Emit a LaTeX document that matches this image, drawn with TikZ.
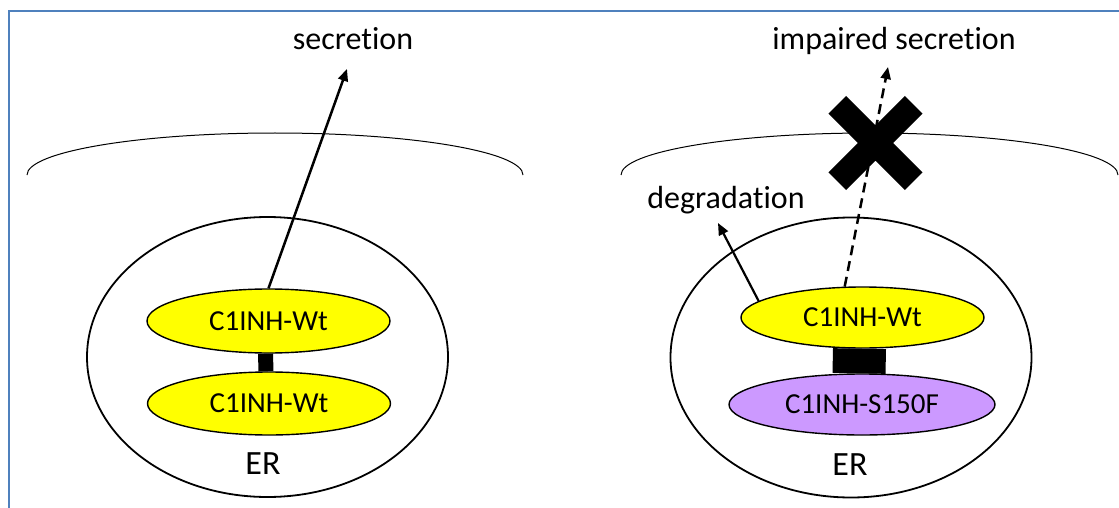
\documentclass[tikz,border=0pt]{standalone}
\usepackage{fontspec}
\setmainfont{Carlito}[Ligatures=NoCommon]
\usetikzlibrary{positioning,arrows.meta,shapes.geometric,shapes.misc}
\definecolor{wtyellow}{RGB}{255,255,0}
\definecolor{mutlilac}{RGB}{204,153,255}
\definecolor{frameblue}{RGB}{79,129,189}
\tikzset{
  er/.style={draw,ellipse,line width=1.8pt,minimum width=361pt,minimum height=280pt},
  prot/.style={draw,ellipse,fill=wtyellow,line width=1.4pt,inner sep=0pt,font=\fontsize{29}{34}\selectfont},
  lab/.style={inner sep=0pt,font=\fontsize{32}{38}\selectfont},
  erlab/.style={inner sep=0pt,font=\fontsize{34}{40}\selectfont},
  flow/.style={line width=2.5pt,-{Triangle[length=12pt,width=10pt]}},
  memb/.style={line width=1pt},
  bond/.style={line width=#1},
  block/.style={cross out,draw,line width=25pt,minimum size=51.4pt,inner sep=0pt}
}
\begin{document}
\begin{tikzpicture}[x=1pt,y=1pt]
    \fill[white] (0,0) rectangle (1119,-508);
    \useasboundingbox (0,0) rectangle (1119,-508);
    \draw[frameblue,line width=2pt] (9,-508) -- (9,-11) -- (1119,-11);
    % membranes
    \draw[memb] (27,-175) arc[start angle=180,end angle=0,x radius=248pt,y radius=42pt];
    \draw[memb] (621,-175) arc[start angle=180,end angle=0,x radius=248.5pt,y radius=42pt];
    % wild type
    \node[er] (erL) at (267.5,-357) {};
    \node[erlab] (erLabL) at (263,-464) {ER};
    \node[prot,minimum width=243pt,minimum height=64pt] (wtL1) at (268.5,-321) {C1INH-Wt};
    \node[prot,minimum width=243pt,minimum height=63pt] (wtL2) at (269,-403.5) {C1INH-Wt};
    \draw[bond=15pt] ([xshift=-3pt]wtL1.south) -- ([xshift=-3pt]wtL2.north);
    \node[lab,anchor=base] (sec) at (353,-50) {secretion};
    \coordinate (secTip) at (347,-69);
    \draw[flow] (wtL1.north) -- (secTip);
    % mutant
    \node[er] (erR) at (851,-357.5) {};
    \node[erlab] (erLabR) at (850,-465) {ER};
    \node[prot,minimum width=243pt,minimum height=61pt] (wtR) at (862.5,-317.5) {C1INH-Wt};
    \node[prot,fill=mutlilac,minimum width=266pt,minimum height=61pt] (mutR) at (862,-404.5) {C1INH-S150F};
    \draw[bond=53pt] ([xshift=-3pt]wtR.south) -- ([xshift=-3pt]mutR.north);
    \node[lab,anchor=base] (impsec) at (894,-50) {impaired secretion};
    \coordinate (impTip) at (888,-67);
    \draw[flow,dash pattern=on 10pt off 6pt] (wtR.120) -- (impTip);
    \node[lab,anchor=base] (degr) at (726,-208) {degradation};
    \coordinate (degTip) at (718,-223);
    \draw[flow,line width=2.2pt] (wtR.171) -- (degTip);
    \node[block] (stop) at (875.5,-143) {};
\end{tikzpicture}
\end{document}
